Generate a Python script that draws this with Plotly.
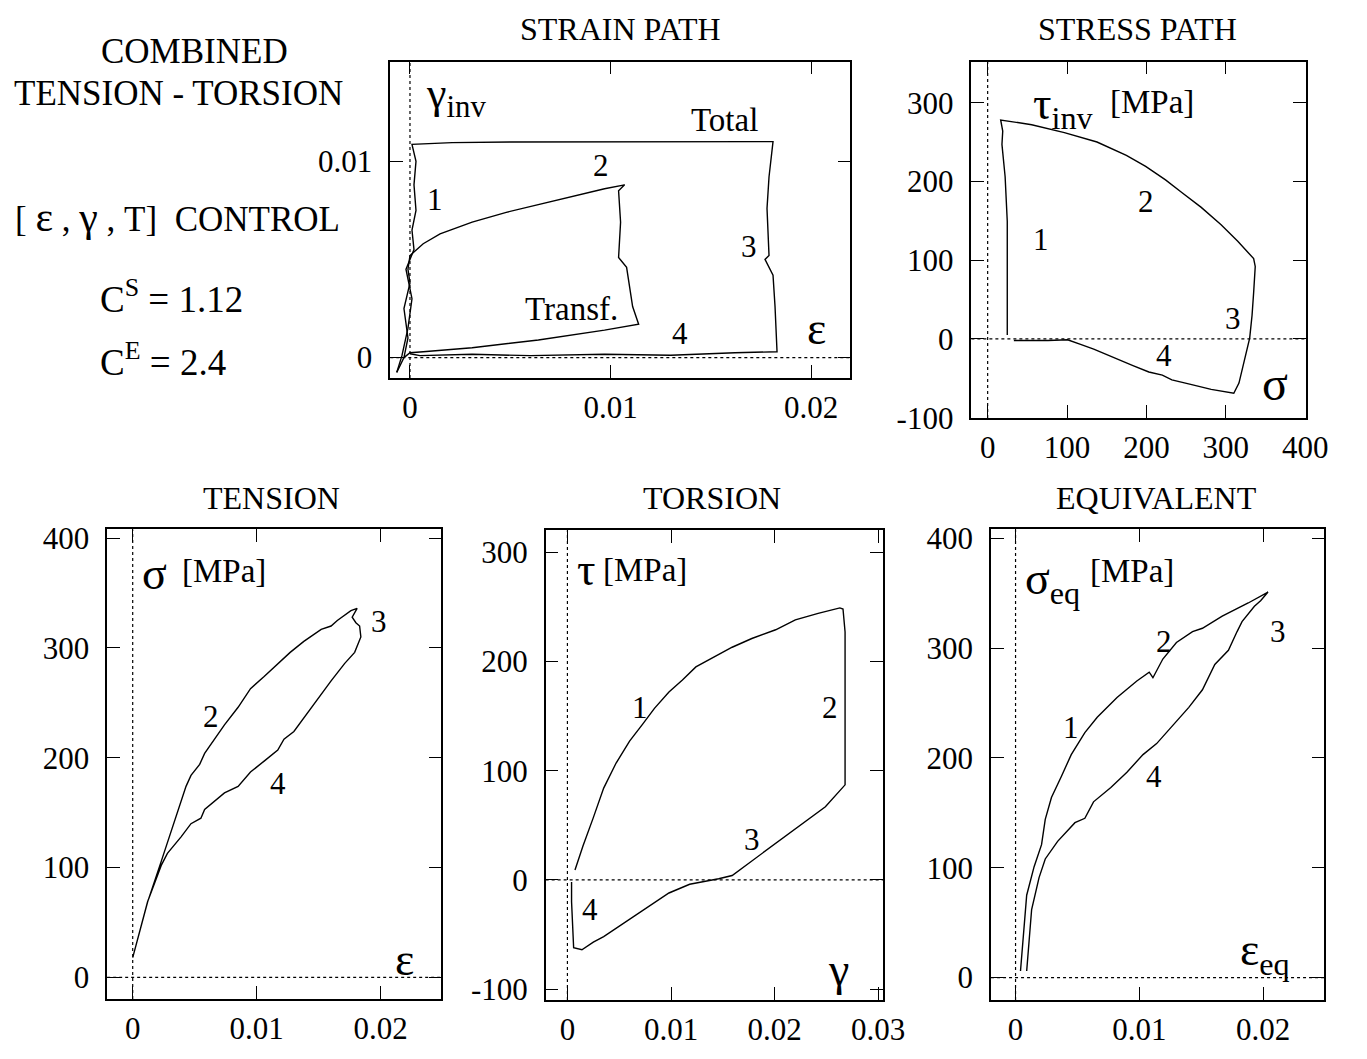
import plotly.graph_objects as go

W, H = 1367, 1059
FONT = "Liberation Serif, Times New Roman, Times, serif"

# ---------------- data ----------------
# Strain path (eps, gamma_inv)
total_eps = [-0.00066, -0.0004, -0.0001, 0.0001, -0.0002, 0.0002, 0.0001, 0.0003, 0.0002, 0.0003, 0.0001,
             0.0021, 0.0050, 0.0100, 0.0150, 0.0181, 0.0179, 0.0178, 0.0179, 0.0177, 0.0181, 0.0182, 0.0183,
             0.0162, 0.0130, 0.0097, 0.0060, 0.0031, 0.0005, 0.0]
total_gam = [-0.00075, 0.0001, 0.0015, 0.0030, 0.0045, 0.0055, 0.0065, 0.0075, 0.0088, 0.0100, 0.01086,
             0.01095, 0.01098, 0.01100, 0.01102, 0.0110, 0.0092, 0.0076, 0.0052, 0.0050, 0.0042, 0.0026, 0.0003,
             0.00025, 0.00012, 0.00017, 0.00010, 0.00017, 0.0001, 0.0002]
transf_eps = [-0.00066, -0.0003, -0.0001, -0.0003, 0.0, -0.0001, 0.0, 0.00066, 0.0015, 0.0031, 0.0048, 0.0064,
              0.0080, 0.0097, 0.0107, 0.0104, 0.0105, 0.0104, 0.0108, 0.0111, 0.0114, 0.0097, 0.0064, 0.0031,
              0.00066, 0.0, -0.0003]
transf_gam = [-0.00075, 0.0, 0.0010, 0.0025, 0.0038, 0.0045, 0.0052, 0.0058, 0.0063, 0.0069, 0.0074, 0.0078,
              0.0082, 0.0086, 0.0088, 0.0085, 0.0069, 0.0051, 0.0046, 0.0026, 0.0017, 0.0014, 0.0009, 0.0005,
              0.0003, 0.00025, 0.0]

# Stress path (sigma, tau_inv) [MPa]
sp_sig = [24.7, 24.7, 24.7, 22, 18, 19, 16.4, 55.5, 96.6, 137.7, 174.7, 199, 224, 244.5, 269, 294, 315, 335,
          337, 335, 333, 330, 322.6, 316.5, 310, 281.5, 257, 232, 220, 203, 183, 158, 133.6, 117, 100.7, 76, 33]
sp_tau = [5, 100, 149, 206, 247, 264, 278, 272, 262, 250, 233, 219, 202, 186, 167, 145, 124, 102,
          92, 59, 30, 1, -32, -56, -69, -64, -58, -52, -46, -42, -34, -23, -13, -7, -1, -2, -2]

# Tension (eps, sigma)
ten_up_eps = [0.0, 0.00121, 0.00228, 0.00336, 0.0043, 0.0047, 0.0054, 0.0058, 0.0066, 0.0074, 0.0085, 0.0095,
              0.0106, 0.0117, 0.0127, 0.0138, 0.0152, 0.0160, 0.0165, 0.0176, 0.0181, 0.0177, 0.0180, 0.0183]
ten_up_sig = [18, 69, 105, 141, 174, 184, 194, 204, 217, 230, 246, 263, 274, 286, 296, 306, 317, 320, 325,
              334, 336, 328, 323, 320]
ten_dn_eps = [0.0184, 0.0179, 0.0171, 0.0160, 0.0149, 0.0138, 0.0130, 0.0122, 0.0117, 0.0106, 0.0095, 0.0085,
              0.0074, 0.0058, 0.0055, 0.0047, 0.0039, 0.0028, 0.0023, 0.0012, 0.0]
ten_dn_sig = [310, 296, 286, 270, 253, 237, 224, 217, 207, 197, 187, 174, 168, 153, 145, 140, 128, 113, 102,
              69, 18]

# Torsion (gamma, tau)
tor_gam = [0.00073, 0.0015, 0.0025, 0.0035, 0.0047, 0.0060, 0.0073, 0.0084, 0.0098, 0.0111, 0.0124, 0.0143,
           0.0159, 0.0178, 0.0201, 0.0220, 0.0242, 0.0263, 0.0266, 0.0268, 0.0268, 0.0249, 0.0226, 0.0207,
           0.0188, 0.0172, 0.0159, 0.0146, 0.0130, 0.0118, 0.0098, 0.0082, 0.0066, 0.0050, 0.0035, 0.0025,
           0.0014, 0.0006, 0.0005, 0.0004, 0.0004]
tor_tau = [9, 31, 57, 84, 107, 127, 143, 157, 172, 183, 195, 205, 213, 221, 229, 238, 244, 249, 248, 227, 87,
           67, 51, 37, 24, 13, 4, 1, -2, -4, -12, -22, -32, -42, -52, -57, -64, -62, -40, -20, -2]

# Equivalent (eps_eq, sigma_eq)
eq_up_eps = [0.0004, 0.0009, 0.0015, 0.0021, 0.0024, 0.0029, 0.0037, 0.0045, 0.0056, 0.0066, 0.0082, 0.0098,
             0.0108, 0.0111, 0.0119, 0.0130, 0.0143, 0.0151, 0.0167, 0.0188, 0.0204]
eq_up_sig = [6, 75, 101, 121, 144, 164, 183, 203, 223, 237, 255, 270, 278, 273, 290, 305, 315, 318, 329, 341,
             351]
eq_dn_eps = [0.0204, 0.0198, 0.0193, 0.0183, 0.0179, 0.0172, 0.0161, 0.0151, 0.0140, 0.0130, 0.0122, 0.0114,
             0.0103, 0.0090, 0.0077, 0.0063, 0.0056, 0.0048, 0.0034, 0.0024, 0.0019, 0.0013, 0.0009]
eq_dn_sig = [351, 343, 338, 324, 315, 298, 285, 262, 246, 233, 223, 213, 203, 187, 173, 160, 145, 141, 124,
             108, 91, 62, 6]

# tick labels
strain_ticks = [0, 0.01, 0.02, 0.03]
strain_ticktext = ["0", "0.01", "0.02", "0.03"]
stress_ticks = [-100, 0, 100, 200, 300, 400]
stress_ticktext = ["-100", "0", "100", "200", "300", "400"]

# ---------------- layout helpers ----------------
def dom_x(l, r):
    return [l / W, r / W]

def dom_y(t, b):
    return [1 - b / H, 1 - t / H]

panels = {
    1: ((397, 55, 865, 379), [-0.00098, 0.02196], [-0.00104, 0.01507], [0, 0.01, 0.02], [0, 0.01]),
    2: ((988, 55, 1328, 420), [-20.5, 400.5], [-100.5, 352], [0, 100, 200, 300, 400], [-100, 0, 100, 200, 300]),
    3: ((109, 534, 449, 1015), [-0.00206, 0.0249], [-19.7, 408], [0, 0.01, 0.02], [0, 100, 200, 300, 400]),
    4: ((555, 535, 898, 1016), [-0.0021, 0.03045], [-110, 320], [0, 0.01, 0.02, 0.03], [-100, 0, 100, 200, 300]),
    5: ((1008, 534, 1347, 1016), [-0.00198, 0.02495], [-20.4, 408], [0, 0.01, 0.02], [0, 100, 200, 300, 400]),
}

def ttext(vals):
    out = []
    for v in vals:
        if v in strain_ticks and abs(v) < 0.1:
            out.append(strain_ticktext[strain_ticks.index(v)])
        else:
            out.append(stress_ticktext[stress_ticks.index(v)])
    return out

fig = go.Figure()
line = dict(color="black", width=1.4)

fig.add_trace(go.Scatter(x=total_eps, y=total_gam, mode="lines", line=line, xaxis="x", yaxis="y"))
fig.add_trace(go.Scatter(x=transf_eps, y=transf_gam, mode="lines", line=line, xaxis="x", yaxis="y"))
fig.add_trace(go.Scatter(x=sp_sig, y=sp_tau, mode="lines", line=line, xaxis="x2", yaxis="y2"))
fig.add_trace(go.Scatter(x=ten_up_eps + ten_dn_eps, y=ten_up_sig + ten_dn_sig, mode="lines", line=line,
                         xaxis="x3", yaxis="y3"))
fig.add_trace(go.Scatter(x=tor_gam, y=tor_tau, mode="lines", line=line, xaxis="x4", yaxis="y4"))
fig.add_trace(go.Scatter(x=eq_up_eps + eq_dn_eps, y=eq_up_sig + eq_dn_sig, mode="lines", line=line,
                         xaxis="x5", yaxis="y5"))

tickfont = dict(family=FONT, size=31, color="black")
layout = dict(width=W, height=H, margin=dict(l=0, r=0, t=0, b=0), showlegend=False,
              paper_bgcolor="white", plot_bgcolor="white", font=dict(family=FONT, color="black"))
shapes = []
for i, (box, xr, yr, xt, yt) in panels.items():
    l, t, r, b = box
    sx = "" if i == 1 else str(i)
    common = dict(showline=True, linecolor="black", linewidth=1.5, mirror="allticks", ticks="inside",
                  ticklen=13, tickwidth=1.2, tickcolor="black", showgrid=False, zeroline=False,
                  tickfont=tickfont, fixedrange=True)
    layout["xaxis" + sx] = dict(domain=dom_x(l, r), range=xr, anchor="y" + sx, tickmode="array",
                                tickvals=xt, ticktext=ttext(xt), ticklabelstandoff=1, **common)
    layout["yaxis" + sx] = dict(domain=dom_y(t, b), range=yr, anchor="x" + sx, tickmode="array",
                                tickvals=yt, ticktext=ttext(yt), ticklabelstandoff=10, **common)
    dot = dict(color="black", width=1.2, dash="dot")
    shapes.append(dict(type="line", xref="x" + sx, yref="y" + sx + " domain", x0=0, x1=0, y0=0, y1=1, line=dot))
    shapes.append(dict(type="line", xref="x" + sx + " domain", yref="y" + sx, x0=0, x1=1, y0=0, y1=0, line=dot))
layout["shapes"] = shapes
fig.update_layout(**layout)

ann = []
def txt(text, x, y, panel=None, size=31, xanchor="center", yanchor="middle"):
    if panel is None:
        ann.append(dict(text=text, x=x / W, y=1 - y / H, xref="paper", yref="paper", showarrow=False,
                        xanchor=xanchor, yanchor=yanchor, font=dict(family=FONT, size=size, color="black")))
    else:
        sx = "" if panel == 1 else str(panel)
        ann.append(dict(text=text, x=x, y=y, xref="x" + sx, yref="y" + sx, showarrow=False,
                        xanchor=xanchor, yanchor=yanchor, font=dict(family=FONT, size=size, color="black")))

# titles
txt("STRAIN PATH", 631, 22, size=32)
txt("STRESS PATH", 1157, 22, size=32)
txt("TENSION", 276, 502, size=32)
txt("TORSION", 724, 502, size=32)
txt("EQUIVALENT", 1176, 502, size=32)

# left block
txt('[ <span style="font-size:42px">ε</span> , <span style="font-size:42px">γ</span> , T]\u00a0\u00a0CONTROL',
    13, 214, size=35, xanchor="left")
txt("COMBINED", 198, 45, size=35)
txt("TENSION - TORSION", 182, 88, size=35)
txt("C<sup>S</sup> = 1.12", 100, 295, size=37, xanchor="left")
txt("C<sup>E</sup> = 2.4", 100, 360, size=37, xanchor="left")

# strain path labels
txt("γ<sub>inv</sub>", 0.0007, 0.0133, 1, size=44, xanchor="left")
txt("Total", 0.01566, 0.0121, 1, size=33)
txt("1", 0.00123, 0.00804, 1)
txt("2", 0.0095, 0.00978, 1)
txt("3", 0.01689, 0.00564, 1)
txt("4", 0.01344, 0.00124, 1)
txt("Transf.", 0.00803, 0.00249, 1, size=33)
txt("ε", 0.02025, 0.00149, 1, size=46)

# stress path labels
txt("τ<sub>inv</sub>", 55, 295, 2, size=46, xanchor="left")
txt("[MPa]", 207, 301, 2, size=33)
txt("1", 67, 126, 2)
txt("2", 199, 174, 2)
txt("3", 309.5, 26, 2)
txt("4", 222, -21, 2)
txt("σ", 361.7, -56, 2, size=48)

# tension labels
txt("σ", 0.00175, 368, 3, size=46)
txt("[MPa]", 0.0074, 370, 3, size=33)
txt("2", 0.00632, 238, 3)
txt("3", 0.0199, 324, 3)
txt("4", 0.0117, 177, 3)
txt("ε", 0.0219, 16, 3, size=46)

# torsion labels
txt("τ", 0.00185, 284, 4, size=46)
txt("[MPa]", 0.00744, 284, 4, size=33)
txt("1", 0.00696, 158, 4)
txt("2", 0.02534, 158, 4)
txt("3", 0.01783, 37, 4)
txt("4", 0.00217, -27, 4)
txt("γ", 0.02613, -82, 4, size=46)

# equivalent labels
txt("σ<sub>eq</sub>", 0.0006, 360, 5, size=46, xanchor="left")
txt("[MPa]", 0.0094, 370, 5, size=33)
txt("1", 0.0045, 228, 5)
txt("2", 0.0120, 306, 5)
txt("3", 0.0212, 315, 5)
txt("4", 0.0112, 183, 5)
txt("ε<sub>eq</sub>", 0.0180, 22, 5, size=46, xanchor="left")

fig.update_layout(annotations=ann)
fig.write_html("out.html", config={"displayModeBar": False},
               post_script="document.body.style.margin='0px';document.body.style.overflow='hidden';")
